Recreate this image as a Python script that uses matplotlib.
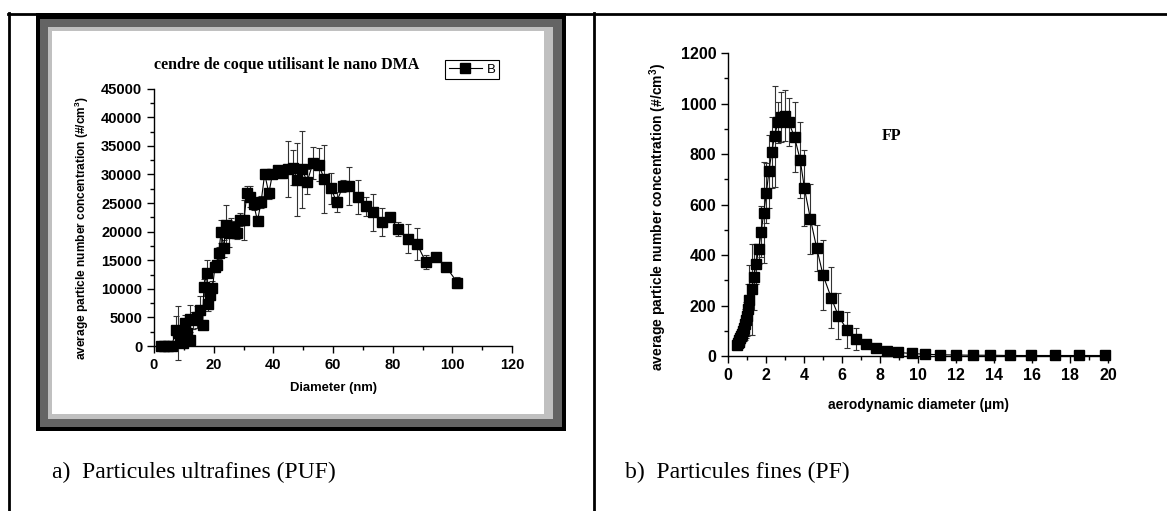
import matplotlib
matplotlib.use("Agg")
import matplotlib.pyplot as plt
from matplotlib.patches import Rectangle
from matplotlib.lines import Line2D
from matplotlib.ticker import MultipleLocator

plt.rcParams['font.family'] = ['Liberation Sans', 'DejaVu Sans']
plt.rcParams['mathtext.fontset'] = 'custom'
plt.rcParams['mathtext.bf'] = 'Liberation Sans:bold'

# --- a) particules ultrafines (nano DMA)
ufp_d = [2.2, 3.5, 4.7, 6.0, 7.3, 8.0, 8.6, 9.6, 10.5, 11.2, 12.0, 12.2, 13.1, 14.4,
         15.3, 16.3, 16.7, 17.6, 18.2, 18.9, 19.6, 20.4, 21.2, 21.7, 22.5, 23.4, 24.0,
         25.3, 25.9, 26.8, 27.9, 28.9, 30.2, 31.1, 32.3, 33.4, 34.7, 35.9, 37.1, 38.5,
         39.7, 41.5, 43.0, 44.8, 46.5, 48.0, 49.7, 51.3, 53.3, 55.2, 57.1, 59.3, 61.2,
         63.4, 65.3, 68.3, 70.9, 73.4, 76.3, 79.2, 81.8, 85.1, 88.2, 91.1, 94.6, 97.8,
         101.7]
ufp_n = [0, 0, 0, 50, 2800, 2300, 1000, 500, 4000, 2200, 1000, 4800, 4500, 5100,
         6300, 3700, 10300, 12700, 7300, 8900, 10100, 13800, 14200, 16300, 20000, 17100, 21100,
         19700, 20800, 20700, 19800, 22100, 22100, 26700, 26100, 24800, 21900, 25200, 30100, 26700,
         30100, 30800, 30200, 31000, 31200, 29100, 30900, 28700, 32000, 31700, 29200, 27600, 25200,
         28000, 28000, 26100, 24400, 23400, 21700, 22500, 20500, 18800, 17800, 14700, 15600, 13900,
         11100]
ufp_err = [0, 0, 0, 50, 2400, 4700, 800, 500, 1500, 1200, 600, 2400, 1500, 1900,
           2500, 800, 1500, 2400, 1200, 1500, 1300, 800, 800, 1000, 2000, 1500, 3600,
           2300, 1500, 1200, 1000, 1200, 3500, 1200, 1800, 1000, 800, 1000, 800, 1000,
           800, 700, 800, 4900, 3000, 6400, 6700, 2200, 2800, 2900, 6000, 2700, 1800,
           1000, 3300, 3000, 1600, 3200, 2400, 400, 1200, 2600, 2800, 1200, 400, 700,
           1000]

# --- b) particules fines
fp_d = [0.48, 0.52, 0.56, 0.60, 0.65, 0.70, 0.75, 0.80, 0.85, 0.90, 0.95, 1.00, 1.06,
        1.13, 1.26, 1.35, 1.48, 1.62, 1.75, 1.88, 2.02, 2.15, 2.30, 2.45, 2.62, 2.80,
        3.00, 3.20, 3.50, 3.80, 4.02, 4.34, 4.67, 5.00, 5.43, 5.81, 6.27, 6.74, 7.24,
        7.77, 8.38, 8.97, 9.66, 10.38, 11.14, 12.00, 12.91, 13.81, 14.86, 15.96, 17.20,
        18.48, 19.85]
fp_n = [45, 50, 55, 62, 70, 78, 88, 98, 110, 125, 142, 160, 185,
        222, 265, 312, 365, 425, 493, 567, 645, 731, 806, 870, 925, 946,
        952, 925, 867, 777, 665, 542, 427, 321, 231, 159, 103, 67, 46,
        31, 20, 14, 10, 7, 5, 4, 3, 3, 2, 2, 2,
        2, 2]
fp_err = [10, 12, 15, 18, 22, 28, 35, 40, 50, 60, 70, 80, 100,
          140, 180, 130, 80, 60, 100, 200, 120, 145, 140, 200, 80, 100,
          100, 95, 140, 150, 150, 140, 90, 140, 120, 90, 70, 43, 12,
          8, 5, 3, 2, 2, 1, 1, 1, 1, 1, 1, 1,
          1, 1]

W, H = 1167, 511
fig = plt.figure(figsize=(W / 100, H / 100), dpi=100)

# fond : tableau + cadre de l'image de gauche (coordonnées en pixels)
bg = fig.add_axes([0, 0, 1, 1])
bg.set_xlim(0, W)
bg.set_ylim(H, 0)
bg.axis('off')
bg.add_patch(Rectangle((36, 13), 530, 418, color='black', lw=0))
bg.add_patch(Rectangle((40, 19), 522, 408, color='#646464', lw=0))
bg.add_patch(Rectangle((48, 27), 505, 392, color='#c0c0c0', lw=0))
bg.add_patch(Rectangle((52, 31), 492, 383, color='white', lw=0))
bg.plot([8, W], [14, 14], color='black', lw=2)
bg.plot([9, 9], [13, H], color='black', lw=2)
bg.plot([594, 594], [13, H], color='black', lw=2)
bg.text(52, 472, 'a)  Particules ultrafines (PUF)', family='Liberation Serif',
        fontsize=17, va='center', ha='left')
bg.text(625, 472, 'b)  Particules fines (PF)', family='Liberation Serif',
        fontsize=17, va='center', ha='left')


def style_axes(ax, tsize):
    for s in ['top', 'right']:
        ax.spines[s].set_visible(False)
    for s in ['left', 'bottom']:
        ax.spines[s].set_linewidth(1.0)
    ax.tick_params(which='major', direction='out', length=5, width=1, labelsize=tsize)
    ax.tick_params(which='minor', direction='out', length=3, width=1)
    for lab in ax.get_xticklabels() + ax.get_yticklabels():
        lab.set_fontweight('bold')
    ax.patch.set_alpha(0)


# --- gauche
ax1 = fig.add_axes([154 / W, 1 - 346 / H, 358 / W, 257.3 / H])
ax1.errorbar(ufp_d, ufp_n, yerr=ufp_err, fmt='none', ecolor='#333333',
             elinewidth=0.8, capsize=2.5, capthick=0.8, clip_on=False)
ax1.plot(ufp_d, ufp_n, color='black', lw=0.8, marker='s', ms=7.3,
         mfc='black', mec='black', clip_on=False, zorder=3)
ax1.set_xlim(0, 120)
ax1.set_ylim(0, 45000)
ax1.xaxis.set_major_locator(MultipleLocator(20))
ax1.xaxis.set_minor_locator(MultipleLocator(10))
ax1.yaxis.set_major_locator(MultipleLocator(5000))
ax1.yaxis.set_minor_locator(MultipleLocator(2500))
style_axes(ax1, 10.5)
ax1.set_xlabel('Diameter (nm)', fontsize=9.4, fontweight='bold')
ax1.xaxis.set_label_coords(0.5, -0.14)
ax1.set_ylabel(r'average particle number concentration (#/cm$^\mathbf{3}$)',
               fontsize=8.6, fontweight='bold')
ax1.yaxis.set_label_coords(-0.176, 0.46)
fig.text(287 / W, 1 - 65 / H, 'cendre de coque utilisant le nano DMA',
         family='Liberation Serif', fontweight='bold', fontsize=11.5,
         ha='center', va='center')
h = Line2D([], [], color='black', lw=0.8, marker='s', ms=7.3, mfc='black')
leg = ax1.legend([h], ['B'], loc='upper right', bbox_to_anchor=(0.964, 1.11),
                 fancybox=False, edgecolor='black', framealpha=1,
                 handlelength=2.5, handletextpad=0.4, borderpad=0.25,
                 borderaxespad=0, fontsize=9.5)
leg.get_frame().set_linewidth(0.8)

# --- droite
ax2 = fig.add_axes([728 / W, 1 - 356 / H, 380 / W, 303 / H])
ax2.errorbar(fp_d, fp_n, yerr=fp_err, fmt='none', ecolor='#333333',
             elinewidth=0.8, capsize=2.5, capthick=0.8, clip_on=False)
ax2.plot(fp_d, fp_n, color='black', lw=0.8, marker='s', ms=7.3,
         mfc='black', mec='black', clip_on=False, zorder=3)
ax2.set_xlim(0, 20)
ax2.set_ylim(0, 1200)
ax2.xaxis.set_major_locator(MultipleLocator(2))
ax2.xaxis.set_minor_locator(MultipleLocator(1))
ax2.yaxis.set_major_locator(MultipleLocator(200))
ax2.yaxis.set_minor_locator(MultipleLocator(100))
style_axes(ax2, 11.5)
ax2.set_xlabel('aerodynamic diameter (µm)', fontsize=10, fontweight='bold')
ax2.xaxis.set_label_coords(0.5, -0.139)
ax2.set_ylabel(r'average particle number concentration (#/cm$^\mathbf{3}$)',
               fontsize=10, fontweight='bold')
ax2.yaxis.set_label_coords(-0.155, 0.46)
ax2.text(8.6, 870, 'FP', family='Liberation Serif', fontweight='bold',
         fontsize=11.5, ha='center', va='center')

fig.savefig('out.png', dpi=100)
